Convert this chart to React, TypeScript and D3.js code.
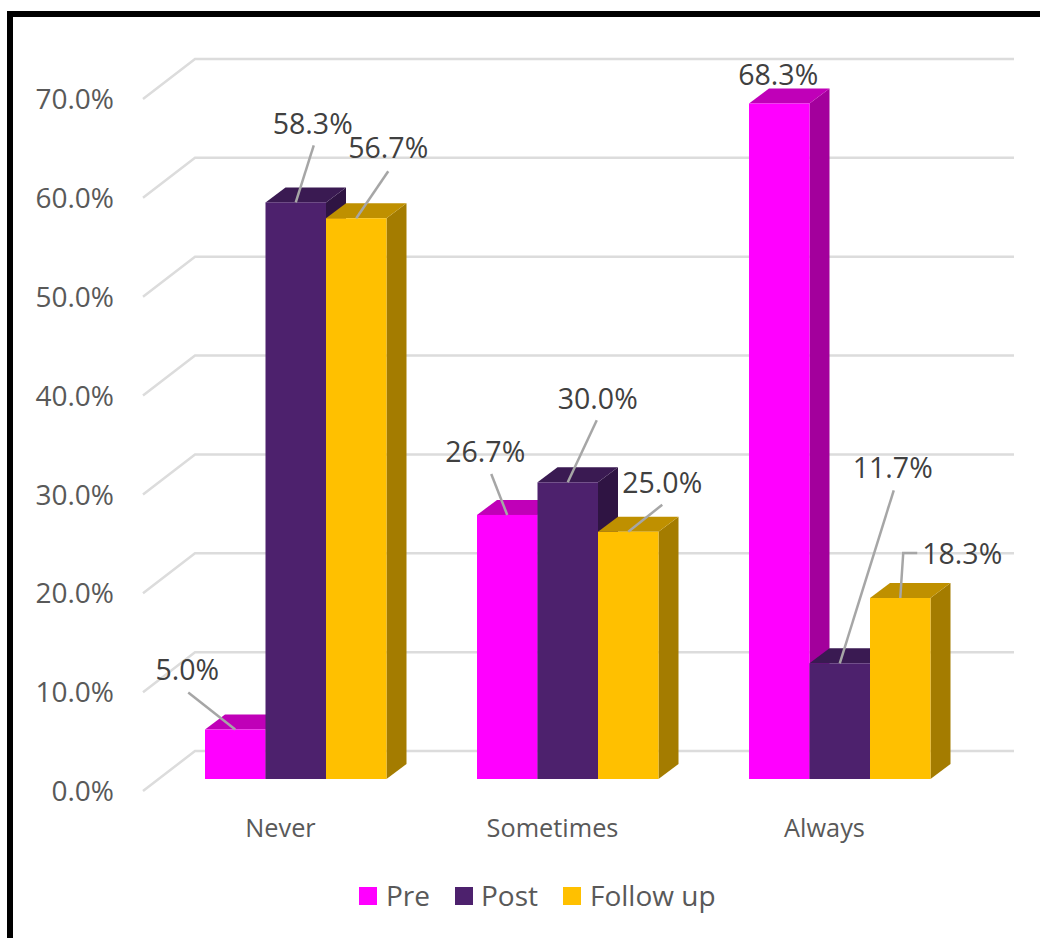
import React from "react";
import * as d3 from "d3";

const categories = ["Never", "Sometimes", "Always"];
const seriesNames = ["Pre", "Post", "Follow up"];
const preValues = [5.0, 26.7, 68.3];
const postValues = [58.3, 30.0, 11.7];
const followUpValues = [56.7, 25.0, 18.3];
const axisTicks = [0, 10, 20, 30, 40, 50, 60, 70];

const seriesValues = [preValues, postValues, followUpValues];
const frontColors = ["#ff00ff", "#4d216d", "#ffc000"];
const topColors = ["#c000b8", "#3a1a52", "#bf9000"];
const sideColors = ["#a3009c", "#2f1443", "#a47c00"];

// Label centre relative to the top-centre of its bar, with the leader's far end
// (category, then series).
const labelPlacement = [
  [
    { dx: -48, dy: -60, lx: -47, ly: -37 },
    { dx: 17, dy: -79, lx: 18, ly: -57 },
    { dx: 32, dy: -70, lx: 32, ly: -47 },
  ],
  [
    { dx: -22, dy: -63, lx: -16, ly: -41 },
    { dx: 30, dy: -84, lx: 29, ly: -62 },
    { dx: 34, dy: -49, lx: 34, ly: -27 },
  ],
  [
    { dx: -1, dy: -29, lx: 0, ly: 0 },
    { dx: 53, dy: -196, lx: 54, ly: -173 },
    { dx: 62, dy: -44, lx: 3, ly: -45, ex: 14 },
  ],
];

const FONT = "'Open Sans', sans-serif";
const DEPTH_X = 20;
const DEPTH_Y = 15;

const y = d3.scaleLinear().domain([0, 70]).range([779, 86.7]);
const tickY = d3.scaleLinear().domain([0, 70]).range([791, 99]);
const categoryX = d3.scaleBand<string>().domain(categories).range([146, 962]);
const seriesX = d3.scaleBand<string>().domain(seriesNames).range([59, 240.5]);

const face = d3.line();

export default function App() {
  return (
    <svg
      width={1040}
      height={938}
      viewBox="0 0 1040 938"
      style={{ position: "absolute", left: 0, top: 0, display: "block", background: "#ffffff" }}
    >
      <path d="M10 938V14H1040" fill="none" stroke="#000000" strokeWidth={6} />

      {axisTicks.map((t) => (
        <g key={t}>
          <path
            d={face([
              [143, tickY(t)],
              [195, tickY(t) - 40],
              [1014, tickY(t) - 40],
            ])!}
            fill="none"
            stroke="#dcdcdc"
            strokeWidth={2.5}
          />
          <text x={114} y={tickY(t)} dy="0.36em" textAnchor="end" fontFamily={FONT} fontSize={28} fill="#595959">
            {`${t.toFixed(1)}%`}
          </text>
        </g>
      ))}

      {categories.map((c, ci) => (
        <g key={c}>
          {seriesNames.map((s, si) => {
            const v = seriesValues[si][ci];
            const x0 = categoryX(c)! + seriesX(s)!;
            const x1 = x0 + seriesX.bandwidth();
            const top = y(v);
            const base = y(0);
            return (
              <g key={s}>
                <path
                  d={face([[x1, top], [x1 + DEPTH_X, top - DEPTH_Y], [x1 + DEPTH_X, base - DEPTH_Y], [x1, base]])! + "Z"}
                  fill={sideColors[si]}
                />
                <path
                  d={face([[x0, top], [x0 + DEPTH_X, top - DEPTH_Y], [x1 + DEPTH_X, top - DEPTH_Y], [x1, top]])! + "Z"}
                  fill={topColors[si]}
                />
                <rect x={x0} y={top} width={x1 - x0} height={base - top} fill={frontColors[si]} />
              </g>
            );
          })}
          <text
            x={categoryX(c)! + categoryX.bandwidth() / 2 - 1.5}
            y={828}
            dy="0.36em"
            textAnchor="middle"
            fontFamily={FONT}
            fontSize={25.3}
            fill="#595959"
          >
            {c}
          </text>
        </g>
      ))}

      {categories.map((c, ci) =>
        seriesNames.map((s, si) => {
          const v = seriesValues[si][ci];
          const cx = categoryX(c)! + seriesX(s)! + seriesX.bandwidth() / 2;
          const top = y(v);
          const p = labelPlacement[ci][si] as {
            dx: number; dy: number; lx: number; ly: number; ex?: number;
          };
          const hasLeader = p.lx !== 0 || p.ly !== 0;
          const pts: [number, number][] = [[cx, top], [cx + p.lx, top + p.ly]];
          if (p.ex) pts.push([cx + p.lx + p.ex, top + p.ly]);
          return (
            <g key={`${c}-${s}`}>
              {hasLeader && <path d={face(pts)!} fill="none" stroke="#a6a6a6" strokeWidth={2.5} />}
              <text
                x={cx + p.dx}
                y={top + p.dy}
                dy="0.36em"
                textAnchor="middle"
                fontFamily={FONT}
                fontSize={28.5}
                fill="#404040"
              >
                {`${v.toFixed(1)}%`}
              </text>
            </g>
          );
        })
      )}

      {[
        { sq: 359, tx: 386 },
        { sq: 455, tx: 481 },
        { sq: 563, tx: 590 },
      ].map((l, i) => (
        <g key={seriesNames[i]}>
          <rect x={l.sq} y={887} width={18} height={18} fill={frontColors[i]} />
          <text x={l.tx} y={906} fontFamily={FONT} fontSize={28} fill="#595959">
            {seriesNames[i]}
          </text>
        </g>
      ))}
    </svg>
  );
}
